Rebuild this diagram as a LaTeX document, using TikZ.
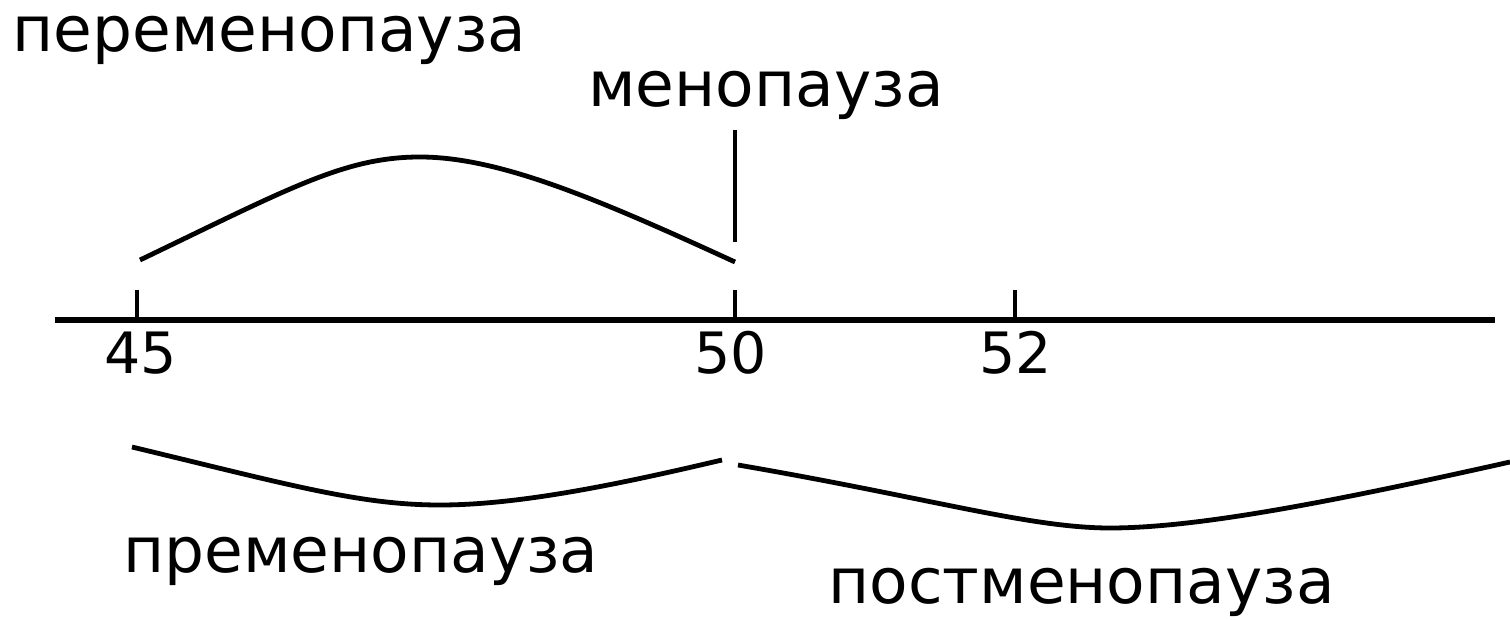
\documentclass[tikz,border=0pt]{standalone}
\usepackage{fontspec}
\setmainfont{DejaVu Sans}
\begin{document}
\begin{tikzpicture}[x=0.5pt,y=-0.5pt,
  lbl/.style={anchor=base west,inner sep=0pt,font=\fontsize{31.5}{36}\selectfont},
  num/.style={anchor=base west,inner sep=0pt,font=\fontsize{28.5}{32}\selectfont},
  curve/.style={line width=2.4pt,line join=round},
  axis/.style={line width=2.8pt},
  tick/.style={line width=1.6pt}]
\useasboundingbox (0,0) rectangle (1510,620);
% labels
\node[lbl] (peri) at (12,52) {переменопауза};
\node[lbl] (meno) at (588,107) {менопауза};
\node[lbl] (pre) at (123,572) {пременопауза};
\node[lbl] (post) at (828,603) {постменопауза};
\node[num] (n45) at (104,373) {45};
\node[num] (n50) at (694,373) {50};
\node[num] (n52) at (979,373) {52};
% axis
\coordinate (a0) at (55,320);
\coordinate (a1) at (1495,320);
\draw[axis] (a0) -- (a1);
\coordinate (t45) at (137,320);
\coordinate (t50) at (735,320);
\coordinate (t52) at (1015,320);
\draw[tick] (t45) -- ++(0,-30);
\draw[tick] (t50) -- ++(0,-30);
\draw[tick] (t52) -- ++(0,-30);
% menopause marker
\coordinate (m0) at (735,130);
\coordinate (m1) at (735,242);
\draw[tick] (m0) -- (m1);
% perimenopause arc
\draw[curve] (140,260) .. controls (290,188) and (345,157) .. (420,157)
  .. controls (500,157) and (600,200) .. (735,262);
% premenopause
\draw[curve] (132,447) .. controls (290,485) and (360,505) .. (440,505)
  .. controls (520,505) and (620,484) .. (722,460);
% postmenopause
\draw[curve] (738,465) .. controls (930,498) and (1030,528) .. (1110,528)
  .. controls (1200,528) and (1340,500) .. (1510,462);
\end{tikzpicture}
\end{document}
